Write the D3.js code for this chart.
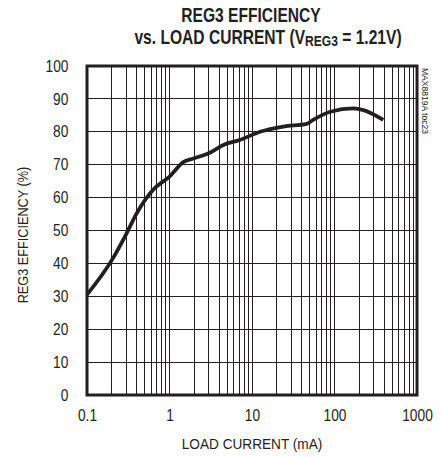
<!DOCTYPE html>
<html>
<head>
<meta charset="utf-8">
<script src="https://cdn.jsdelivr.net/npm/d3@7"></script>
<style>
  body { margin: 0; background: #fff; }
  text { font-family: "Liberation Sans", Arial, sans-serif; fill: #231f20; }
</style>
</head>
<body>
<div id="chart"></div>
<script>
// load current (mA) vs efficiency (%)
const current = [0.1, 0.2, 0.3, 0.4, 0.63, 1, 1.5, 1.95, 2.95, 4.5, 7.1, 12.5, 24, 46, 55, 89, 170, 224, 390];
const efficiency = [30.5, 41, 49, 55.2, 62.3, 66.4, 70.9, 71.9, 73.4, 76, 77.5, 80, 81.6, 82.4, 83.6, 86.1, 87.1, 86.6, 83.6];
const xTicks = [0.1, 1, 10, 100, 1000];
const yTicks = [0, 10, 20, 30, 40, 50, 60, 70, 80, 90, 100];

const width = 444;
const height = 457;
const margin = { top: 66, right: 27, bottom: 62, left: 87 };

const svg = d3.select("#chart")
  .append("svg")
  .attr("width", width)
  .attr("height", height);

const xScale = d3.scaleLog()
  .domain([0.1, 1000])
  .range([margin.left, width - margin.right]);

const yScale = d3.scaleLinear()
  .domain([0, 100])
  .range([height - margin.bottom, margin.top]);

// grid lines
const minor = [];
for (let d = 0.1; d < 1000; d *= 10) {
  for (let k = 2; k <= 9; k++) minor.push(+(d * k).toPrecision(3));
}
minor.push(1, 10, 100);

svg.append("g")
  .attr("shape-rendering", "crispEdges")
  .selectAll("line")
  .data(minor)
  .join("line")
  .attr("x1", d => xScale(d))
  .attr("x2", d => xScale(d))
  .attr("y1", yScale(0))
  .attr("y2", yScale(100))
  .attr("stroke", "#231f20")
  .attr("stroke-width", 1);

svg.append("g")
  .attr("shape-rendering", "crispEdges")
  .selectAll("line")
  .data(yTicks.slice(1, -1))
  .join("line")
  .attr("x1", xScale(0.1))
  .attr("x2", xScale(1000))
  .attr("y1", d => yScale(d))
  .attr("y2", d => yScale(d))
  .attr("stroke", "#231f20")
  .attr("stroke-width", 1);

// frame
svg.append("rect")
  .attr("x", xScale(0.1))
  .attr("y", yScale(100))
  .attr("width", xScale(1000) - xScale(0.1))
  .attr("height", yScale(0) - yScale(100))
  .attr("fill", "none")
  .attr("stroke", "#231f20")
  .attr("stroke-width", 3);

// axes (labels only), text squeezed to look like a condensed face
const xAxis = svg.append("g")
  .attr("transform", `translate(0,${height - margin.bottom + 12})`)
  .call(d3.axisBottom(xScale).tickValues(xTicks).tickFormat(d => d < 1 ? "0.1" : d3.format("d")(d)).tickSize(0));
const yAxis = svg.append("g")
  .attr("transform", `translate(${margin.left - 16},0)`)
  .call(d3.axisLeft(yScale).tickValues(yTicks).tickSize(0));

[xAxis, yAxis].forEach(a => {
  a.select(".domain").remove();
  a.selectAll("text").style("font-size", "16px").attr("fill", "#231f20")
    .attr("transform", "scale(0.86,1)");
});

// curve
const line = d3.line()
  .x((d, i) => xScale(current[i]))
  .y((d, i) => yScale(efficiency[i]))
  .curve(d3.curveMonotoneX);

svg.append("path")
  .datum(efficiency)
  .attr("d", line)
  .attr("fill", "none")
  .attr("stroke", "#231f20")
  .attr("stroke-width", 3.8)
  .attr("stroke-linejoin", "round");

// titles
svg.append("text")
  .attr("transform", "translate(251,21.5) scale(0.78,1)")
  .attr("text-anchor", "middle")
  .style("font-size", "20px").style("font-weight", "bold")
  .text("REG3 EFFICIENCY");

const t2 = svg.append("text")
  .attr("transform", "translate(268,43.5) scale(0.78,1)")
  .attr("text-anchor", "middle")
  .style("font-size", "20px").style("font-weight", "bold");
t2.append("tspan").text("vs. LOAD CURRENT (V");
t2.append("tspan").attr("dy", 2).style("font-size", "15.5px").text("REG3");
t2.append("tspan").attr("dy", -2).text(" = 1.21V)");

svg.append("text")
  .attr("transform", `translate(${(margin.left + width - margin.right) / 2},449) scale(0.88,1)`)
  .attr("text-anchor", "middle")
  .style("font-size", "15.5px")
  .text("LOAD CURRENT (mA)");

svg.append("text")
  .attr("transform", "translate(28,235) rotate(-90) scale(0.82,1)")
  .attr("text-anchor", "middle")
  .style("font-size", "15.5px")
  .text("REG3 EFFICIENCY (%)");

svg.append("text")
  .attr("transform", `translate(422,${margin.top + 2}) rotate(90) scale(0.9,1)`)
  .attr("text-anchor", "start")
  .style("font-size", "9.5px")
  .text("MAX8819A toc23");
</script>
</body>
</html>
